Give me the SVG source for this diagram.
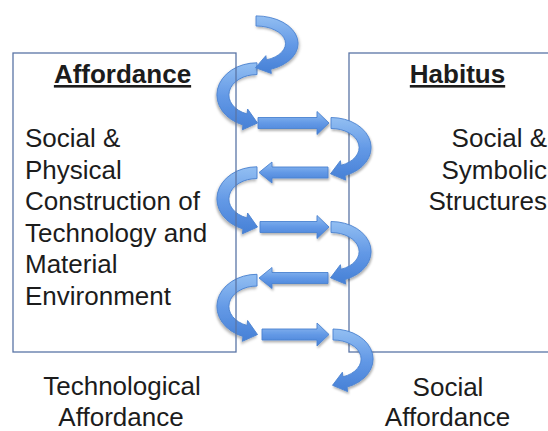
<svg xmlns="http://www.w3.org/2000/svg" xmlns:xlink="http://www.w3.org/1999/xlink" width="548" height="431" viewBox="0 0 548 431">
  <style>
    .box { fill: #ffffff; stroke: #5a75a6; stroke-width: 1.3; }
    .frame { fill: none; stroke: #5a75a6; stroke-width: 1.3; }
    .txt { font-family: "Liberation Sans", Arial, Helvetica, sans-serif; font-size: 26px; fill: #1c1c1c; }
    .head { font-weight: bold; text-decoration: underline; text-anchor: middle; }
    .mid { text-anchor: middle; }
    .end { text-anchor: end; }
    .arrow { fill: url(#arrowFill); stroke: #4b82d0; stroke-width: 0.9; stroke-linejoin: round; filter: url(#shadow); }
  </style>
  <defs>
    <linearGradient id="arrowFill" x1="0" y1="0" x2="0" y2="1">
      <stop offset="0" stop-color="#93bff2"/>
      <stop offset="0.5" stop-color="#6399e6"/>
      <stop offset="1" stop-color="#4680d6"/>
    </linearGradient>
    <filter id="shadow" x="-20%" y="-20%" width="140%" height="150%">
      <feDropShadow dx="1" dy="2" stdDeviation="1.3" flood-color="#000000" flood-opacity="0.3"/>
    </filter>
    <path id="uturn" d="M0,-30 A40,30 0 0 1 14.1,28.1 L14.6,32.6 L-0.5,26.3 L9.4,13.2 L9.9,17.8 A28,19 0 0 0 0,-19 Z"/>
  </defs>

  <rect width="548" height="431" fill="#ffffff"/>

  <g id="node-habitus">
    <rect class="box" x="349" y="53" width="230" height="299"/>
    <text class="txt head" x="457.5" y="83">Habitus</text>
    <text class="txt end" x="547" y="147">Social &amp;</text>
    <text class="txt end" x="547" y="178.5">Symbolic</text>
    <text class="txt end" x="547" y="210">Structures</text>
  </g>

  <g id="label-technological-affordance">
    <text class="txt mid" x="122" y="395">Technological</text>
    <text class="txt mid" x="121" y="426">Affordance</text>
  </g>

  <g id="label-social-affordance">
    <text class="txt mid" x="448" y="396">Social</text>
    <text class="txt mid" x="447.5" y="426">Affordance</text>
  </g>

  <g id="connectors">
    <use href="#uturn" class="arrow" transform="translate(257,94.9) scale(-1,1.07)"/>
    <use href="#uturn" class="arrow" transform="translate(256,43.5) scale(1.05,0.92)"/>
    <path class="arrow" d="M258,117.5 H317 V111.5 L329,123 L317,134.5 V128.5 H258 Z"/>
    <use href="#uturn" class="arrow" transform="translate(331,147.5)"/>
    <path class="arrow" d="M328,167 H272 V162 L259,172.5 L272,183 V178 H328 Z"/>
    <use href="#uturn" class="arrow" transform="translate(257,198.9) scale(-1,1.07)"/>
    <path class="arrow" d="M260,221.5 H317 V215.5 L329,227 L317,238.5 V232.5 H260 Z"/>
    <use href="#uturn" class="arrow" transform="translate(331,251.5)"/>
    <path class="arrow" d="M328,272.5 H272 V267.5 L259,278 L272,288.5 V283.5 H328 Z"/>
    <use href="#uturn" class="arrow" transform="translate(257,306.4) scale(-1,1.07)"/>
    <path class="arrow" d="M262,329 H317 V323 L329,334.5 L317,346 V340 H262 Z"/>
    <use href="#uturn" class="arrow" transform="translate(333,359)"/>
  </g>

  <g id="node-affordance">
    <rect class="frame" x="13" y="53" width="223" height="299"/>
    <text class="txt head" x="122.5" y="83">Affordance</text>
    <text class="txt" x="25" y="147">Social &amp;</text>
    <text class="txt" x="25" y="178.5">Physical</text>
    <text class="txt" x="25" y="210">Construction of</text>
    <text class="txt" x="25" y="241.5">Technology and</text>
    <text class="txt" x="25" y="273">Material</text>
    <text class="txt" x="25" y="304.5">Environment</text>
  </g>
</svg>
